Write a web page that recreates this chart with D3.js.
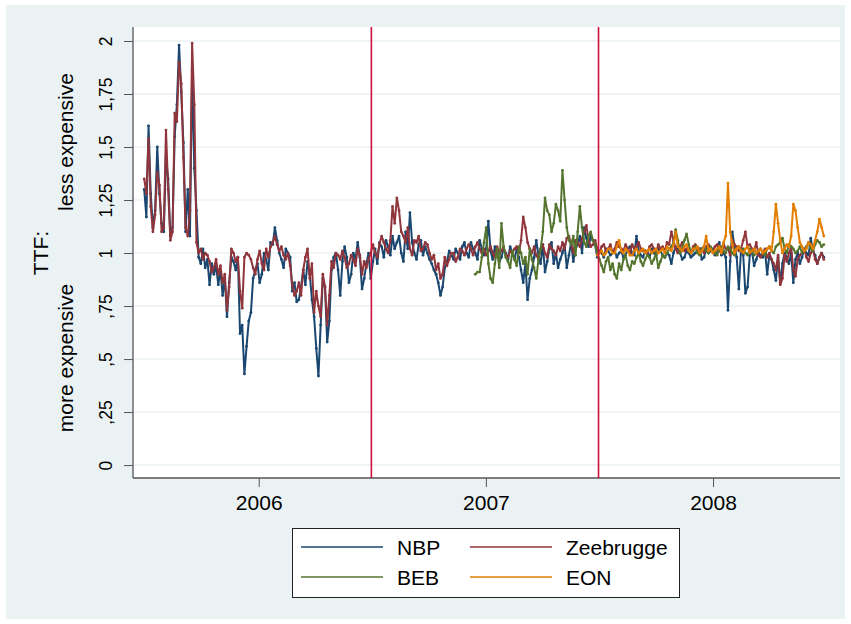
<!DOCTYPE html>
<html>
<head>
<meta charset="utf-8">
<script src="https://cdn.jsdelivr.net/npm/d3@7"></script>
<style>
  body { margin: 0; background: #fff; }
  svg { display: block; font-family: "Liberation Sans", Arial, sans-serif; }
</style>
</head>
<body>
<div id="chart"></div>
<script>
// half-weekly ratios (every 3.5 days)
var nbpStart = "2005-07-01";
var nbp = [1.30, 1.17, 1.60, 1.28, 1.12, 1.20, 1.50, 1.28, 1.14, 1.10, 1.45, 1.35, 1.08, 1.12, 1.55, 1.70, 1.98, 1.76, 1.52, 1.10, 1.30, 1.08, 1.86, 1.40, 1.20, 0.98, 0.95, 1.02, 0.93, 0.97, 0.85, 0.95, 0.90, 0.94, 0.85, 0.92, 0.80, 0.88, 0.70, 0.86, 0.98, 0.96, 0.92, 0.98, 0.62, 0.66, 0.43, 0.56, 0.68, 0.72, 0.88, 0.92, 0.95,
  0.86, 0.90, 1.00, 0.97, 0.92, 1.05, 1.04, 1.12, 1.06, 1.00, 0.97, 0.93, 1.02, 1.00, 0.98, 0.82, 0.86, 0.77, 0.78, 0.84, 0.92, 0.85, 0.96, 0.90, 0.78, 0.70, 0.55, 0.42, 0.66, 0.88, 0.84, 0.58, 0.68, 0.92, 0.98, 1.00, 0.92, 0.80, 0.96, 1.03, 0.98, 0.86, 0.90, 1.00, 0.97, 1.05, 0.98, 0.83, 0.88, 0.95, 1.00, 0.88,
  0.96, 1.02, 0.95, 1.05, 1.03, 0.98, 1.06, 1.03, 0.99, 1.08, 1.02, 1.05, 1.08, 1.00, 0.96, 1.10, 1.02, 1.19, 1.05, 1.00, 0.97, 1.04, 1.06, 0.99, 1.03, 1.00, 0.97, 0.95, 0.92, 0.90, 0.86, 0.80, 0.84, 0.93, 0.96, 1.01, 0.99, 0.97, 1.02, 1.00, 0.97, 1.03, 1.05, 1.00, 0.98, 1.05, 1.02, 1.00, 0.97, 1.06, 1.02, 0.99,
  1.02, 1.15, 1.01, 0.97, 1.03, 1.00, 0.96, 0.98, 1.02, 1.00, 0.97, 1.03, 1.00, 0.97, 1.02, 0.98, 0.92, 0.86, 0.95, 0.78, 0.88, 0.92, 0.98, 1.06, 0.99, 0.95, 1.04, 0.91, 0.96, 1.02, 1.05, 0.95, 1.00, 0.93, 0.97, 1.00, 1.04, 0.93, 0.99, 1.05, 0.96, 1.02, 1.04, 1.08, 1.00, 1.12, 1.07, 1.03, 1.08, 1.06, 1.04, 0.98,
  1.01, 1.00, 0.98, 1.02, 1.01, 0.99, 1.00, 1.01, 0.98, 1.00, 1.01, 0.98, 0.99, 1.02, 1.03, 1.00, 0.99, 1.08, 1.01, 0.99, 0.98, 1.01, 1.00, 0.98, 1.02, 1.00, 0.99, 1.02, 1.01, 0.99, 0.98, 1.00, 0.99, 0.95, 1.00, 1.03, 1.02, 1.00, 0.97, 0.98, 1.01, 1.00, 0.98, 0.99, 1.00, 1.01, 1.02, 0.97, 0.98, 1.02, 1.00, 1.01,
  1.02, 0.99, 1.00, 1.05, 0.99, 1.00, 0.98, 0.73, 0.96, 1.10, 1.03, 0.98, 0.83, 1.02, 0.99, 0.81, 0.84, 0.99, 1.01, 0.94, 0.97, 1.00, 0.99, 0.98, 1.01, 0.90, 0.99, 0.97, 0.92, 0.87, 0.98, 0.86, 0.95, 1.00, 0.98, 0.95, 1.00, 0.86, 0.97, 1.00, 0.95, 0.98, 1.02, 1.00, 0.99, 1.07, 1.01, 0.99, 0.95, 0.98, 1.00, 0.98];

var zeeStart = "2005-07-01";
var zee = [1.35, 1.28, 1.54, 1.22, 1.10, 1.18, 1.38, 1.32, 1.10, 1.12, 1.58, 1.30, 1.06, 1.10, 1.66, 1.62, 1.90, 1.80, 1.45, 1.12, 1.08, 1.20, 1.99, 1.70, 1.05, 1.00, 1.02, 0.97, 1.00, 0.99, 0.96, 0.91, 0.93, 0.97, 0.90, 0.94, 0.86, 0.90, 0.73, 0.84, 1.02, 1.00, 0.96, 0.98, 0.82, 0.74, 0.98, 1.00, 0.99, 0.97, 0.93, 0.90, 0.97,
  1.01, 0.95, 0.92, 1.02, 0.98, 1.03, 1.05, 1.08, 1.04, 1.01, 1.03, 0.99, 0.97, 1.00, 0.94, 0.85, 0.80, 0.82, 0.86, 0.80, 0.92, 0.98, 1.02, 0.88, 0.95, 0.72, 0.82, 0.75, 0.70, 0.90, 0.84, 0.66, 0.80, 0.96, 0.93, 1.00, 0.99, 0.97, 1.01, 0.98, 0.93, 0.95, 0.99, 0.97, 0.94, 1.02, 0.99, 0.90, 0.96, 0.93, 0.97, 1.00,
  1.04, 1.00, 0.98, 1.04, 1.08, 1.05, 1.02, 1.00, 1.06, 1.22, 1.14, 1.26, 1.20, 1.10, 1.08, 1.05, 1.12, 1.02, 0.99, 1.06, 1.05, 1.08, 1.01, 1.02, 1.05, 1.04, 1.00, 0.97, 0.99, 0.92, 0.95, 0.88, 0.90, 0.98, 0.94, 0.97, 1.00, 1.00, 0.96, 0.98, 1.02, 1.01, 0.99, 1.02, 1.04, 1.02, 0.99, 1.03, 1.05, 1.02, 1.00, 1.02,
  0.99, 1.01, 1.03, 1.00, 0.98, 1.03, 1.00, 1.01, 1.03, 0.99, 0.98, 1.01, 1.00, 1.02, 1.03, 1.00, 1.06, 1.17, 1.12, 1.05, 1.02, 1.00, 1.03, 0.99, 0.97, 1.02, 1.04, 1.00, 0.98, 1.04, 1.02, 1.01, 0.99, 1.03, 1.01, 1.05, 1.02, 1.07, 1.08, 1.04, 1.00, 1.06, 1.05, 1.03, 1.07, 1.10, 1.13, 1.06, 1.03, 1.04, 1.06, 1.02,
  1.00, 1.03, 1.04, 1.01, 1.02, 1.04, 1.00, 1.02, 1.05, 1.03, 1.02, 1.01, 1.04, 1.02, 1.00, 1.04, 1.02, 1.03, 1.05, 1.02, 1.01, 1.01, 1.00, 1.03, 1.04, 1.02, 1.00, 1.04, 1.02, 1.03, 1.01, 1.05, 1.04, 1.10, 1.06, 1.02, 1.00, 1.03, 1.05, 1.01, 1.02, 1.02, 1.00, 1.03, 1.04, 1.01, 1.02, 1.02, 1.00, 1.03, 1.04, 1.02,
  1.01, 1.03, 1.04, 1.01, 1.00, 1.04, 1.02, 1.02, 0.99, 1.06, 1.04, 1.03, 1.01, 1.02, 1.06, 1.10, 1.03, 1.04, 1.02, 1.01, 1.05, 0.99, 0.98, 1.00, 1.02, 0.98, 1.00, 0.97, 0.95, 0.92, 0.99, 0.85, 0.88, 0.99, 0.96, 1.00, 1.03, 0.92, 0.89, 0.97, 0.99, 1.00, 1.02, 0.98, 0.96, 1.00, 1.02, 0.97, 0.95, 0.98, 1.00, 0.97];

var bebStart = "2006-12-15";
var beb = [0.90, 0.91, 0.91, 0.98, 1.05, 1.12, 0.95, 0.88, 0.86, 0.95, 1.02, 0.93, 1.14, 1.03, 0.98, 0.96, 0.93, 1.01, 0.97, 0.94, 1.03, 1.00, 0.95, 0.98, 0.90, 1.02, 0.97, 0.93, 0.88, 0.97, 1.02, 1.10, 1.26, 1.20, 1.18, 1.10, 1.14, 1.23, 1.20, 1.15, 1.39, 1.25, 1.12, 1.06, 1.04, 1.08, 0.99, 1.10, 1.22, 1.12, 1.05, 1.03, 1.08, 1.10, 1.06,
  1.04, 1.00, 0.97, 0.94, 0.91, 0.96, 0.98, 0.92, 0.95, 0.90, 0.88, 0.95, 0.92, 0.97, 0.99, 0.94, 0.92, 0.96, 0.95, 0.98, 1.00, 0.96, 0.94, 0.97, 0.99, 0.98, 0.95, 0.97, 1.00, 0.93, 0.96, 0.99, 0.98, 1.00, 1.02, 1.03, 1.05, 1.11, 1.06, 1.00, 1.02, 1.06, 1.09, 1.04, 1.00, 1.01, 1.03, 1.00, 0.99, 1.02, 1.03, 1.01, 1.00, 1.03,
  1.01, 1.00, 0.99, 1.02, 1.03, 1.01, 1.00, 1.03, 1.02, 1.00, 0.99, 1.02, 1.03, 1.01, 1.02, 1.00, 0.99, 1.02, 1.01, 0.99, 1.00, 1.01, 1.02, 1.00, 0.99, 1.02, 1.03, 1.01, 1.00, 1.03, 1.04, 1.05, 1.07, 1.02, 1.00, 1.04, 1.03, 1.02, 1.00, 1.01, 1.03, 1.00, 1.01, 1.03, 1.05, 1.02, 1.01, 1.04, 1.06, 1.05, 1.03, 1.04];

var eonStart = "2007-06-29";
var eon = [0.99, 1.00, 1.01, 0.99, 1.00, 1.02, 1.02, 1.00, 1.00, 1.03, 1.06, 1.01, 1.00, 1.02, 1.01, 0.99, 0.99, 1.01, 1.02, 1.00, 1.01, 1.02, 1.00, 1.01, 1.02, 1.00, 1.01, 1.02, 1.00, 1.01, 1.02, 1.00, 1.03, 1.02, 1.01, 1.04, 1.10, 1.03, 1.02, 1.01, 1.03, 1.04, 1.01, 1.00, 1.02, 1.02, 1.03, 1.00, 1.01, 1.03, 1.08, 1.01, 1.02,
  1.00, 1.01, 1.02, 1.03, 1.00, 1.05, 1.08, 1.33, 1.10, 1.04, 1.00, 1.02, 1.03, 1.01, 1.00, 1.02, 1.03, 1.00, 1.01, 1.02, 1.00, 1.01, 1.02, 1.00, 1.01, 1.02, 1.03, 1.01, 1.10, 1.23, 1.14, 1.06, 1.00, 1.02, 1.04, 1.03, 1.08, 1.23, 1.20, 1.12, 1.05, 1.03, 1.01, 1.02, 1.05, 1.04, 1.02, 1.06, 1.10, 1.16, 1.12, 1.08];

var seriesNames = ["NBP", "Zeebrugge", "BEB", "EON"];
var seriesColors = ["#1a476f", "#90353b", "#55752f", "#e37e00"];
var yTicks = [0, 0.25, 0.5, 0.75, 1, 1.25, 1.5, 1.75, 2];
var yTickLabels = ["0", ",25", ",5", ",75", "1", "1,25", "1,5", "1,75", "2"];
var xTicks = ["2006-01-01", "2007-01-01", "2008-01-01"];
var xTickLabels = ["2006", "2007", "2008"];
var breakDates = ["2006-07-01", "2007-07-01"];

var parse = d3.timeParse("%Y-%m-%d");

// one value every 3.5 days (84 hours)
function halfWeekly(start, values) {
  var t0 = parse(start);
  return values.map(function(v, i) { return {date: d3.timeHour.offset(t0, i * 84), value: v}; });
}

var series = [
  halfWeekly(nbpStart, nbp),
  halfWeekly(zeeStart, zee),
  halfWeekly(bebStart, beb),
  halfWeekly(eonStart, eon)
];

var width = 851, height = 624;
var plot = {left: 133, right: 840, top: 27, bottom: 478};

var svg = d3.select("#chart").append("svg")
    .attr("width", width)
    .attr("height", height);

svg.append("rect").attr("x", 6).attr("y", 5).attr("width", 839).attr("height", 614).attr("fill", "#eaf2f3");
svg.append("rect").attr("x", plot.left).attr("y", plot.top)
    .attr("width", plot.right - plot.left).attr("height", plot.bottom - plot.top).attr("fill", "#fff");

var x = d3.scaleTime()
    .domain([parse("2005-06-13"), parse("2008-07-23")])
    .range([plot.left, plot.right]);

var y = d3.scaleLinear()
    .domain([-0.061, 2.066])
    .range([plot.bottom, plot.top]);

// grid
svg.append("g").selectAll("line")
    .data(yTicks)
    .enter().append("line")
    .attr("x1", plot.left).attr("x2", plot.right)
    .attr("y1", function(d) { return y(d); }).attr("y2", function(d) { return y(d); })
    .attr("stroke", "#eaf2f3").attr("stroke-width", 1.5);

// y axis
var yAxis = d3.axisLeft(y)
    .tickValues(yTicks)
    .tickSize(9)
    .tickFormat(function(d, i) { return yTickLabels[i]; });

var gy = svg.append("g").attr("transform", "translate(" + plot.left + ",0)").call(yAxis);
gy.select(".domain").attr("stroke", "#555").attr("stroke-width", 1.3).attr("d", "M0," + plot.top + "V" + plot.bottom);
gy.selectAll(".tick line").attr("stroke", "#555");
gy.selectAll(".tick text")
    .attr("font-size", 17.5)
    .attr("fill", "#000")
    .attr("text-anchor", "middle")
    .attr("x", 0)
    .attr("dy", 0)
    .attr("transform", "translate(-21,0) rotate(-90)");

// x axis
var xAxis = d3.axisBottom(x)
    .tickValues(xTicks.map(parse))
    .tickSize(9)
    .tickPadding(8)
    .tickFormat(function(d, i) { return xTickLabels[i]; });

var gx = svg.append("g").attr("transform", "translate(0," + plot.bottom + ")").call(xAxis);
gx.select(".domain").attr("stroke", "#555").attr("stroke-width", 1.3).attr("d", "M" + plot.left + ",0H" + plot.right);
gx.selectAll(".tick line").attr("stroke", "#555");
gx.selectAll(".tick text").attr("font-size", 21).attr("fill", "#000");

// y titles
var titles = [
  {text: "TTF:", tx: 48, ty: 253},
  {text: "less expensive", tx: 73, ty: 142},
  {text: "more expensive", tx: 73, ty: 358}
];
svg.append("g").selectAll("text")
    .data(titles)
    .enter().append("text")
    .attr("transform", function(d) { return "translate(" + d.tx + "," + d.ty + ") rotate(-90)"; })
    .attr("text-anchor", "middle")
    .attr("font-size", 21)
    .attr("fill", "#000")
    .text(function(d) { return d.text; });

// series
var line = d3.line()
    .x(function(d) { return x(d.date); })
    .y(function(d) { return y(d.value); });

var sg = svg.append("g").selectAll("g")
    .data(series)
    .enter().append("g");

sg.append("path")
    .attr("d", line)
    .attr("fill", "none")
    .attr("stroke", function(d, i) { return seriesColors[i]; })
    .attr("stroke-width", 2)
    .attr("stroke-linejoin", "round");

sg.each(function(d, i) {
  d3.select(this).selectAll("circle")
      .data(d)
      .enter().append("circle")
      .attr("cx", function(p) { return x(p.date); })
      .attr("cy", function(p) { return y(p.value); })
      .attr("r", 1.4)
      .attr("fill", seriesColors[i]);
});

// break lines
svg.append("g").selectAll("line")
    .data(breakDates.map(parse))
    .enter().append("line")
    .attr("x1", function(d) { return x(d); }).attr("x2", function(d) { return x(d); })
    .attr("y1", plot.top).attr("y2", plot.bottom)
    .attr("stroke", "#d0103a").attr("stroke-width", 1.6);

// legend
var legend = svg.append("g");
legend.append("rect")
    .attr("x", 292.5).attr("y", 528.5).attr("width", 387).attr("height", 69)
    .attr("fill", "#fff").attr("stroke", "#222").attr("stroke-width", 1);

var items = legend.selectAll("g.item")
    .data(seriesNames)
    .enter().append("g")
    .attr("class", "item")
    .attr("transform", function(d, i) {
      return "translate(" + (i % 2 === 0 ? 301 : 470) + "," + (i < 2 ? 547 : 577) + ")";
    });

items.append("line")
    .attr("x1", 0).attr("x2", 82)
    .attr("stroke", function(d, i) { return seriesColors[i]; })
    .attr("stroke-width", 1.5);

items.append("text")
    .attr("x", 96).attr("y", 8)
    .attr("font-size", 21)
    .attr("fill", "#000")
    .text(function(d) { return d; });
</script>
</body>
</html>
